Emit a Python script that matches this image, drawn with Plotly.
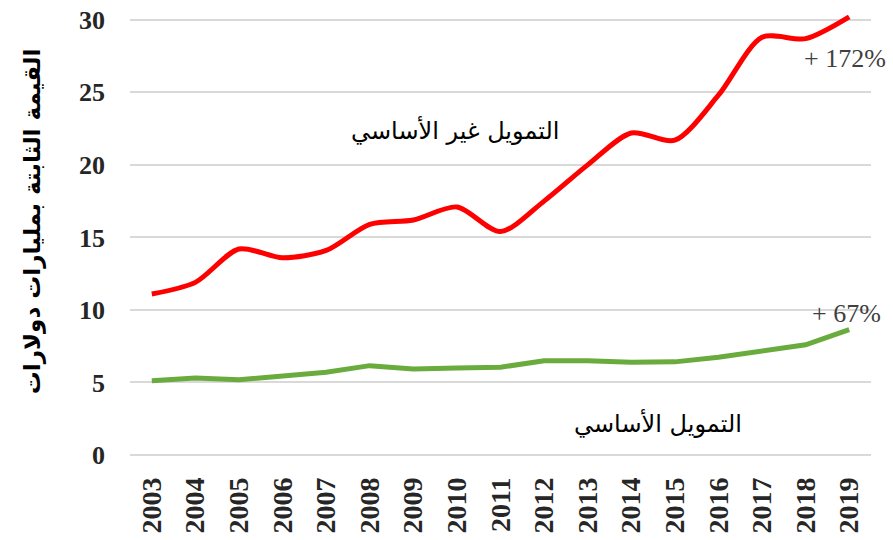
import plotly.graph_objects as go

years = [str(y) for y in range(2003, 2020)]
non_core = [11.1, 11.9, 14.2, 13.6, 14.1, 15.9, 16.2, 17.1, 15.4, 17.5, 20.0, 22.2, 21.7, 24.8, 28.8, 28.7, 30.2]
core = [5.12, 5.3, 5.19, 5.47, 5.7, 6.16, 5.93, 6.0, 6.05, 6.5, 6.5, 6.4, 6.42, 6.74, 7.2, 7.6, 8.65]
y_ticks = [0, 5, 10, 15, 20, 25, 30]

y_title = "القيمة الثابتة بمليارات دولارات"
label_non_core = "التمويل غير الأساسي"
label_core = "التمويل الأساسي"
pct_non_core = "+ 172%"
pct_core = "+ 67%"

W, H = 893, 540
ML, MR, MT, MB = 130, 22, 14, 85
PW = W - ML - MR


def px_to_paper_x(px):
    return (px - ML) / PW


fig = go.Figure()
fig.add_trace(go.Scatter(x=years, y=non_core, mode="lines",
                         line=dict(color="#FF0000", width=5, shape="spline", smoothing=0.8),
                         showlegend=False, hoverinfo="skip"))
fig.add_trace(go.Scatter(x=years, y=core, mode="lines",
                         line=dict(color="#6AAB3E", width=5),
                         showlegend=False, hoverinfo="skip"))

serif = "Liberation Serif"
fig.update_layout(
    width=W, height=H,
    margin=dict(l=ML, r=MR, t=MT, b=MB),
    plot_bgcolor="white", paper_bgcolor="white",
    xaxis=dict(type="category", tickangle=-90, showgrid=False, showline=False, ticks="",
               ticklabelstandoff=16, automargin=False,
               tickfont=dict(family=serif, size=28, color="#262626", weight="bold"),
               range=[-0.5, 16.5]),
    yaxis=dict(range=[0, 30.4], tickvals=y_ticks, showgrid=True, gridcolor="#D9D9D9", gridwidth=2,
               zeroline=True, zerolinecolor="#D9D9D9", zerolinewidth=2, showline=False, ticks="",
               ticklabelstandoff=24, ticklabeloverflow="allow", automargin=False,
               tickfont=dict(family=serif, size=26, color="#262626", weight="bold")),
    shapes=[
        dict(type="line", xref="paper", yref="y", x0=px_to_paper_x(345), x1=px_to_paper_x(556),
             y0=20, y1=20, line=dict(color="white", width=3), layer="below"),
    ],
    annotations=[
        dict(text=y_title, xref="paper", yref="paper", x=px_to_paper_x(32), y=0.53,
             xanchor="center", yanchor="middle", textangle=-90, showarrow=False,
             font=dict(family="DejaVu Sans", size=23, color="#000000", weight="bold")),
        dict(text=label_non_core, xref="paper", yref="y", x=px_to_paper_x(455), y=22.4,
             xanchor="center", showarrow=False,
             font=dict(family="DejaVu Sans", size=24, color="#000000")),
        dict(text=label_core, xref="paper", yref="y", x=px_to_paper_x(658), y=2.2,
             xanchor="center", showarrow=False,
             font=dict(family="DejaVu Sans", size=24, color="#000000")),
        dict(text=pct_non_core, xref="paper", yref="y", x=px_to_paper_x(845), y=27.3,
             xanchor="center", showarrow=False,
             font=dict(family=serif, size=26, color="#404040")),
        dict(text=pct_core, xref="paper", yref="y", x=px_to_paper_x(846), y=9.75,
             xanchor="center", showarrow=False,
             font=dict(family=serif, size=26, color="#404040")),
    ],
)

fig.write_html("out.html", config={"displayModeBar": False},
               post_script="document.body.style.margin='0';")
